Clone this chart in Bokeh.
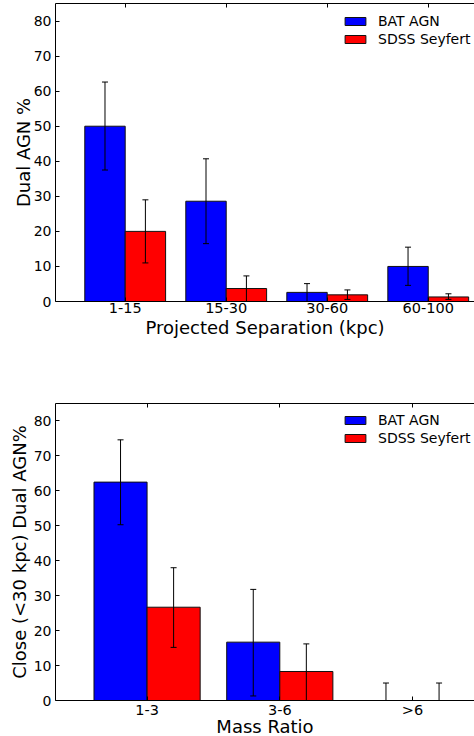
from bokeh.plotting import figure
from bokeh.models import (ColumnDataSource, Whisker, TeeHead, FixedTicker, LinearAxis,
                          Range1d, Legend, LegendItem)
from bokeh.layouts import column
from bokeh.embed import file_html
from bokeh.resources import INLINE

# ---- data: projected separation ----
sep_labels = ["1-15", "15-30", "30-60", "60-100"]
bat_sep = [50.0, 28.6, 2.6, 10.0]
bat_sep_lo = [37.5, 16.5, 0.0, 4.6]
bat_sep_hi = [62.6, 40.7, 5.1, 15.5]
sdss_sep = [20.0, 3.7, 1.9, 1.3]
sdss_sep_lo = [11.0, 0.0, 0.6, 0.6]
sdss_sep_hi = [29.0, 7.3, 3.3, 2.2]

# ---- data: mass ratio ----
mass_labels = ["1-3", "3-6", ">6"]
bat_mass = [62.5, 16.7, 0.0]
bat_mass_lo = [50.3, 1.3, 0.0]
bat_mass_hi = [74.6, 31.8, 5.0]
sdss_mass = [26.7, 8.3, 0.0]
sdss_mass_lo = [15.2, 0.0, 0.0]
sdss_mass_hi = [38.0, 16.2, 5.0]

y_ticks = [0, 10, 20, 30, 40, 50, 60, 70, 80]
FONT = "DejaVu Sans"


def make_panel(labels, bat, bat_lo, bat_hi, sdss, sdss_lo, sdss_hi,
               xlabel, ylabel, x_end, frame_h, mb_top, mb_bottom, xlab_standoff, ylab_standoff):
    idx = list(range(len(labels)))
    src_b = ColumnDataSource(dict(x=[i - 0.2 for i in idx], top=bat, lo=bat_lo, hi=bat_hi))
    src_r = ColumnDataSource(dict(x=[i + 0.2 for i in idx], top=sdss, lo=sdss_lo, hi=sdss_hi))

    p = figure(x_range=Range1d(-0.69, x_end), y_range=Range1d(0, 85),
               frame_width=419, frame_height=frame_h,
               output_backend="svg", toolbar_location=None,
               min_border_left=55, min_border_right=0,
               min_border_top=mb_top, min_border_bottom=mb_bottom)
    p.outline_line_color = None
    p.grid.visible = False
    p.background_fill_color = "white"
    p.border_fill_color = "white"

    rb = p.vbar(x="x", width=0.4, top="top", bottom=0, source=src_b,
                fill_color="#0000ff", line_color="#111111", line_width=1)
    rr = p.vbar(x="x", width=0.4, top="top", bottom=0, source=src_r,
                fill_color="#ff0000", line_color="#111111", line_width=1)

    for src in (src_b, src_r):
        w = Whisker(base="x", lower="lo", upper="hi", source=src,
                    line_color="black", line_width=1, level="annotation",
                    upper_head=TeeHead(size=6, line_color="black", line_width=1),
                    lower_head=TeeHead(size=6, line_color="black", line_width=1))
        p.add_layout(w)

    xa = p.xaxis[0]
    xa.ticker = FixedTicker(ticks=idx)
    xa.major_label_overrides = {i: lab for i, lab in zip(idx, labels)}
    xa.axis_label = xlabel
    ya = p.yaxis[0]
    ya.ticker = FixedTicker(ticks=y_ticks)
    ya.axis_label = ylabel

    for ax in (xa, ya):
        ax.major_tick_in = 4
        ax.major_tick_out = 0
        ax.minor_tick_in = 0
        ax.minor_tick_out = 0
        ax.axis_line_color = "black"
        ax.major_tick_line_color = "black"
        ax.major_label_text_font = FONT
        ax.major_label_text_color = "black"
        ax.axis_label_text_font = FONT
        ax.axis_label_text_font_style = "normal"
        ax.axis_label_text_font_size = "18px"
        ax.axis_label_text_color = "black"
    xa.major_label_text_font_size = "14.5px"
    xa.major_label_standoff = 1
    xa.axis_label_standoff = xlab_standoff
    ya.major_label_text_font_size = "14px"
    ya.major_label_standoff = 4
    ya.axis_label_standoff = ylab_standoff

    top_ax = LinearAxis(ticker=FixedTicker(ticks=idx), major_tick_in=4, major_tick_out=0,
                        minor_tick_in=0, minor_tick_out=0,
                        major_label_text_font_size="1px", major_label_text_color=None,
                        major_label_standoff=0, axis_line_color="black",
                        major_tick_line_color="black")
    p.add_layout(top_ax, "above")

    legend = Legend(items=[LegendItem(label="BAT AGN", renderers=[rb]),
                           LegendItem(label="SDSS Seyfert", renderers=[rr])],
                    location=(287, 254), border_line_color=None,
                    background_fill_alpha=0, glyph_width=26, glyph_height=10,
                    label_text_font=FONT, label_text_font_size="14px",
                    label_text_color="black",
                    label_standoff=10, spacing=2, padding=0, margin=0,
                    label_height=15)
    p.add_layout(legend)
    return p


p1 = make_panel(sep_labels, bat_sep, bat_sep_lo, bat_sep_hi, sdss_sep, sdss_sep_lo, sdss_sep_hi,
                "Projected Separation (kpc)", "Dual AGN %", 3.458, 298, 3, 50, 1, -3)
p2 = make_panel(mass_labels, bat_mass, bat_mass_lo, bat_mass_hi, sdss_mass, sdss_mass_lo, sdss_mass_hi,
                "Mass Ratio", "Close (<30 kpc) Dual AGN%", 2.467, 297, 52, 0, -5, 1)

layout = column(p1, p2, spacing=0)

open("out.html", "w").write(file_html(layout, INLINE))
